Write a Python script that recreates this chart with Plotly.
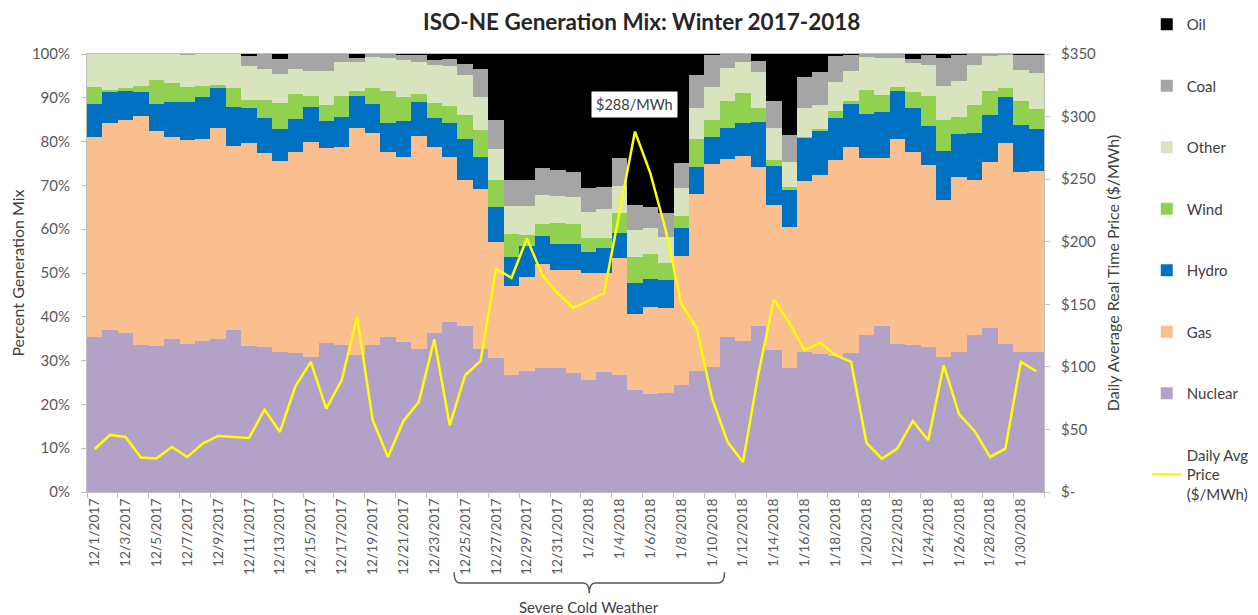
import plotly.graph_objects as go

dates = (["12/%d/2017" % d for d in range(1, 32)] + ["1/%d/2018" % d for d in range(1, 32)])

nuclear = [35.4, 36.9, 36.3, 33.6, 33.3, 35.0, 33.7, 34.5, 35.0, 37.1,
           33.4, 33.0, 32.0, 31.8, 30.8, 34.1, 33.6, 31.2, 33.6, 35.4,
           34.3, 32.7, 36.2, 38.8, 38.0, 32.7, 30.5, 26.8, 27.6, 28.4,
           28.2, 27.2, 25.5, 27.4, 26.8, 23.4, 22.3, 22.6, 24.4, 27.6,
           28.6, 35.4, 34.5, 37.9, 32.5, 28.3, 32.0, 31.6, 31.0, 31.8,
           35.8, 37.9, 33.7, 33.5, 33.1, 30.8, 32.0, 35.8, 37.5, 33.9,
           32.0, 32.0]
gas = [45.6, 47.3, 48.6, 52.2, 49.2, 46.1, 46.6, 46.2, 48.0, 41.9,
       46.2, 44.5, 43.6, 45.8, 49.2, 44.5, 45.1, 52.0, 48.4, 42.3,
       42.2, 48.6, 42.5, 37.7, 33.2, 36.4, 26.5, 20.2, 21.5, 23.6,
       22.4, 23.4, 24.4, 22.5, 26.7, 17.2, 20.0, 19.5, 29.4, 40.4,
       46.4, 40.6, 42.2, 36.2, 33.0, 32.2, 39.1, 40.8, 44.9, 46.9,
       40.5, 38.3, 46.8, 44.2, 41.5, 35.8, 40.0, 35.4, 37.9, 45.7,
       41.1, 41.3]
hydro = [7.6, 7.1, 6.7, 5.5, 6.1, 7.9, 8.7, 9.5, 9.3, 9.0,
         8.1, 7.8, 7.2, 7.6, 7.8, 6.2, 7.0, 7.2, 6.6, 6.5,
         8.1, 7.7, 6.6, 7.7, 9.3, 7.3, 8.1, 6.7, 7.0, 6.5,
         6.0, 6.0, 4.9, 5.9, 5.7, 7.2, 6.4, 6.4, 6.4, 6.3,
         6.0, 7.0, 7.5, 10.4, 8.9, 8.4, 9.9, 10.2, 9.4, 9.9,
         10.0, 10.6, 11.1, 9.9, 8.9, 11.3, 9.7, 10.7, 10.7, 10.5,
         10.8, 9.5]
wind = [3.9, 0.5, 0.6, 1.4, 5.4, 4.4, 3.5, 2.5, 0.7, 4.2,
        1.9, 4.2, 5.9, 5.6, 2.5, 3.6, 4.6, 1.2, 3.6, 7.4,
        5.5, 1.9, 3.6, 3.9, 5.6, 6.2, 6.1, 5.3, 2.5, 2.8,
        4.9, 4.7, 3.1, 2.1, 4.4, 5.9, 5.6, 3.8, 2.9, 6.2,
        3.9, 6.3, 7.0, 3.1, 1.4, 0.8, 0.1, 0.3, 1.8, 0.7,
        5.5, 3.8, 0.8, 3.8, 6.9, 7.0, 4.0, 6.4, 5.5, 2.1,
        5.4, 4.6]
other = [7.5, 8.2, 7.8, 7.3, 6.0, 6.6, 7.4, 7.3, 7.0, 7.8,
         7.6, 7.1, 6.7, 5.8, 5.8, 7.7, 7.8, 6.5, 7.2, 7.4,
         8.5, 7.3, 8.6, 9.2, 9.1, 7.5, 7.0, 6.3, 6.7, 6.5,
         6.1, 6.1, 6.1, 6.6, 6.3, 6.2, 5.9, 6.0, 6.2, 7.1,
         7.6, 7.4, 7.0, 8.4, 7.2, 5.7, 6.5, 5.4, 6.6, 6.9,
         7.6, 8.6, 6.6, 6.6, 7.1, 7.8, 8.2, 9.2, 7.9, 7.6,
         7.0, 8.2]
coal = [0.0, 0.0, 0.0, 0.0, 0.0, 0.0, 0.1, 0.0, 0.0, 0.0,
        2.3, 3.4, 3.5, 3.4, 3.9, 3.9, 1.9, 1.0, 0.6, 1.0,
        1.2, 1.6, 1.1, 1.5, 2.5, 6.4, 6.7, 5.9, 5.9, 6.1,
        6.0, 5.7, 5.3, 5.2, 6.3, 5.6, 4.9, 5.3, 5.9, 7.6,
        7.3, 3.3, 1.8, 2.5, 6.3, 6.1, 7.2, 7.7, 5.8, 3.6,
        0.6, 0.8, 1.0, 0.8, 2.3, 6.5, 5.9, 2.5, 0.5, 0.2,
        3.5, 4.2]
oil = [0.0, 0.0, 0.0, 0.0, 0.0, 0.0, 0.0, 0.0, 0.0, 0.0,
       0.5, 0.0, 1.1, 0.0, 0.0, 0.0, 0.0, 0.9, 0.0, 0.0,
       0.2, 0.2, 1.4, 1.2, 2.3, 3.5, 15.1, 28.8, 28.8, 26.1,
       26.4, 26.9, 30.7, 30.3, 23.8, 34.5, 34.9, 36.4, 24.8, 4.8,
       0.2, 0.0, 0.0, 1.5, 10.7, 18.5, 5.2, 4.0, 0.5, 0.2,
       0.0, 0.0, 0.0, 1.2, 0.2, 0.8, 0.2, 0.0, 0.0, 0.0,
       0.2, 0.2]
price = [34.4, 45.6, 44.0, 27.5, 26.7, 36.0, 28.0, 38.7, 44.8, 44.0,
         43.2, 65.8, 48.0, 84.5, 104.0, 66.6, 89.3, 140.0, 57.8, 28.0,
         56.8, 72.0, 122.0, 53.3, 93.3, 104.8, 178.4, 171.1, 202.6, 173.3,
         158.6, 147.2, 152.7, 159.0, 222.0, 288.0, 254.6, 209.0, 150.6, 130.6,
         74.6, 40.0, 24.0, 94.6, 153.8, 135.2, 113.3, 119.2, 109.3, 104.0,
         39.2, 26.7, 34.7, 56.8, 41.3, 101.3, 62.0, 48.8, 28.0, 34.7,
         104.0, 96.5]

price_ticks = [0, 50, 100, 150, 200, 250, 300, 350]
price_ticktext = ["$-", "$50", "$100", "$150", "$200", "$250", "$300", "$350"]
pct_ticks = list(range(0, 101, 10))
pct_ticktext = ["%d%%" % v for v in pct_ticks]

series = [
    ("Nuclear", nuclear, "#B3A2C7", 7),
    ("Gas", gas, "#F9BF8F", 6),
    ("Hydro", hydro, "#0070C0", 5),
    ("Wind", wind, "#92D050", 4),
    ("Other", other, "#D7E4BD", 3),
    ("Coal", coal, "#A5A5A5", 2),
    ("Oil", oil, "#000000", 1),
]

xs = list(range(len(dates)))
FONT = "Lato, 'Open Sans', sans-serif"
TXT = "#595959"
AX = "#BFBFBF"
W, H = 1250, 607  # page body has an 8px margin

fig = go.Figure()
for name, vals, color, rank in series:
    fig.add_trace(go.Bar(
        x=xs, y=vals, name=name, marker=dict(color=color, line=dict(width=0)),
        legendrank=rank, legendgroup=name, hoverinfo="x+y+name",
    ))

fig.add_trace(go.Scatter(
    x=xs, y=price, yaxis="y2", mode="lines", name="Daily Avg<br>Price<br>($/MWh)",
    line=dict(color="#FFFF00", width=2.5), legendrank=8, legendgroup="price",
))

# Severe cold weather bracket, between the 12/25/2017 and 1/10/2018 labels
b0 = dates.index("12/25/2017") - 0.72
b1 = dates.index("1/10/2018") + 0.8
bm = (b0 + b1) / 2
yt, yb, yc = -0.183, -0.208, -0.231
path = (f"M {b0},{yt} Q {b0},{yb} {b0+0.4},{yb} L {bm-0.4},{yb} "
        f"Q {bm},{yb} {bm},{yc} Q {bm},{yb} {bm+0.4},{yb} L {b1-0.4},{yb} "
        f"Q {b1},{yb} {b1},{yt}")

peak_i = price.index(max(price))

fig.update_layout(
    width=W, height=H,
    margin=dict(l=79, r=214, t=46, b=123, autoexpand=False),
    paper_bgcolor="white", plot_bgcolor="white",
    barmode="stack", bargap=0,
    font=dict(family=FONT, color=TXT, size=13),
    title=dict(text="<b>ISO-NE Generation Mix: Winter 2017-2018</b>",
               x=0.507, xref="container", xanchor="center",
               y=0.977, yref="container", yanchor="middle",
               font=dict(size=22.5, color="#262626", family=FONT)),
    xaxis=dict(range=[-0.5, len(dates) - 0.5], tickmode="array",
               tickvals=xs[::2], ticktext=dates[::2], tickangle=-90,
               ticks="", showline=True, linecolor=AX, linewidth=1, automargin=False,
               mirror=True,
               showgrid=False, zeroline=False, tickfont=dict(size=13.8, color=TXT),
               minor=dict(tickmode="array",
                          tickvals=[v - 0.5 for v in range(0, len(dates) + 1, 2)],
                          ticks="outside", ticklen=5, tickcolor=AX, showgrid=False)),
    yaxis=dict(range=[0, 100], tickmode="array", tickvals=pct_ticks,
               ticktext=pct_ticktext, ticks="outside", ticklen=5, tickcolor=AX,
               ticklabelstandoff=8,
               showline=True, linecolor=AX, showgrid=False, zeroline=False,
               automargin=False, tickfont=dict(size=15, color=TXT),
               title=dict(text="Percent Generation Mix", standoff=9,
                          font=dict(size=16, color="#404040"))),
    yaxis2=dict(range=[0, 350], overlaying="y", side="right", tickmode="array",
                tickvals=price_ticks, ticktext=price_ticktext, ticks="outside",
                ticklen=5, tickcolor=AX, showline=True, linecolor=AX,
                automargin=False, ticklabelstandoff=8,
                showgrid=False, zeroline=False, tickfont=dict(size=15, color=TXT),
                title=dict(text="Daily Average Real Time Price ($/MWh)", standoff=12,
                           font=dict(size=16, color="#404040"))),
    legend=dict(x=0.911, xref="container", xanchor="left", y=1.005,
                yref="container", yanchor="top", traceorder="grouped",
                tracegroupgap=39, maxheight=H, font=dict(size=15, color="#404040"),
                bgcolor="rgba(0,0,0,0)"),
    showlegend=True,
    annotations=[
        dict(x=peak_i, y=max(price) + 22, xref="x", yref="y2",
             text=f"${max(price):.0f}/MWh", showarrow=False,
             bgcolor="white", borderpad=4, font=dict(size=14.5, color="#404040")),
        dict(x=bm, y=-0.263, xref="x", yref="paper", text="Severe Cold Weather",
             showarrow=False, yanchor="middle", font=dict(size=15, color="#404040")),
    ],
    shapes=[dict(type="path", path=path, xref="x", yref="paper",
                 line=dict(color="#595959", width=1.5))],
)

fig.write_html("out.html")
